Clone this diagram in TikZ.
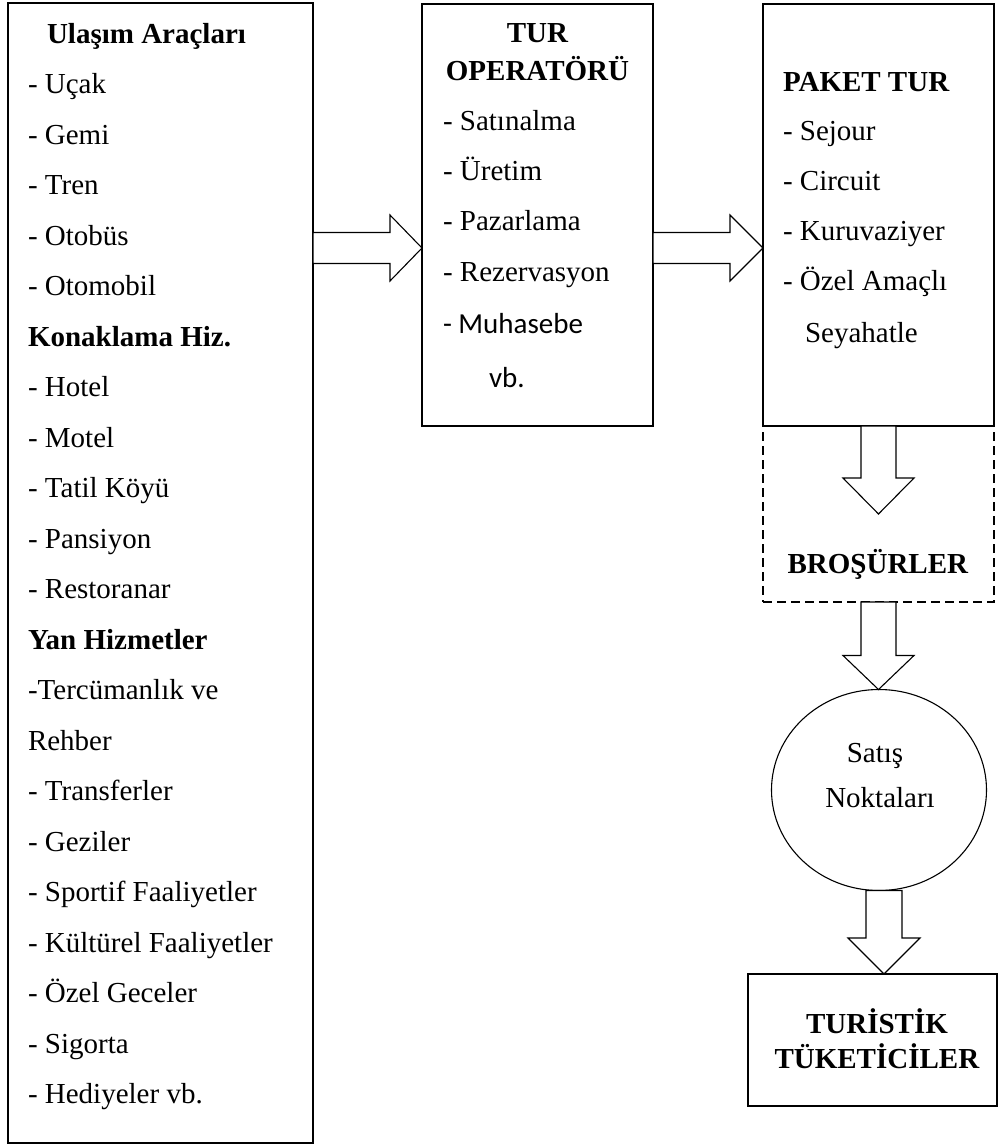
\documentclass[tikz,border=0pt]{standalone}
\usepackage{fontspec}
\setmainfont{Liberation Serif}
\newfontfamily\calibrifont{Carlito}
\usetikzlibrary{calc,shapes.geometric}

\tikzset{
  box/.style={draw, line width=1.1pt, rectangle, inner sep=0pt, outer sep=0pt, anchor=north west},
  dashbox/.style={box, dash pattern=on 9pt off 5pt},
  txt/.style={inner sep=0pt, outer sep=0pt, anchor=base west},
  ctxt/.style={inner sep=0pt, outer sep=0pt, anchor=base},
  % horizontal block arrow: shaft half width, head half width, head length
  harrow/.style n args={3}{draw, line width=1.1pt, fill=white, line join=miter,
    to path={let \p1=(\tikztostart), \p2=(\tikztotarget) in
      (\x1,\y1+#1) -- (\x2-#3,\y1+#1) -- (\x2-#3,\y1+#2) -- (\x2,\y1)
      -- (\x2-#3,\y1-#2) -- (\x2-#3,\y1-#1) -- (\x1,\y1-#1) -- cycle}},
  % downward block arrow
  varrow/.style n args={3}{draw, line width=1.1pt, fill=white, line join=miter,
    to path={let \p1=(\tikztostart), \p2=(\tikztotarget) in
      (\x1-#1,\y1) -- (\x1-#1,\y2+#3) -- (\x1-#2,\y2+#3) -- (\x1,\y2)
      -- (\x1+#2,\y2+#3) -- (\x1+#1,\y2+#3) -- (\x1+#1,\y1) -- cycle}},
}

\begin{document}
\begin{tikzpicture}[x=1pt, y=-1pt, font=\fontsize{29}{35}\selectfont]
\useasboundingbox[fill=white] (0,0) rectangle (999,1144);

% boxes
\node[box, minimum width=305pt, minimum height=1140pt] (left) at (8,3) {};
\node[box, minimum width=231pt, minimum height=422pt] (tur) at (422,4) {};
\node[dashbox, minimum width=231pt, minimum height=176pt] (bro) at (763,426) {};
\node[box, minimum width=231pt, minimum height=422pt] (paket) at (763,4) {};
\node[draw, line width=1.1pt, ellipse, minimum width=215pt, minimum height=201pt,
      inner sep=0pt, outer sep=0pt] (sat) at (879,790) {};
\node[box, minimum width=249pt, minimum height=132pt] (tuk) at (748,974) {};

% left column entries
\foreach \t [count=\i from 0] in {
  {\hspace*{19pt}\textbf{Ulaşım Araçları}}, - Uçak, - Gemi, - Tren, - Otobüs, - Otomobil,
  \textbf{Konaklama Hiz.}, - Hotel, - Motel, - Tatil Köyü, - Pansiyon, - Restoranar,
  \textbf{Yan Hizmetler}, -Tercümanlık ve, Rehber, - Transferler, - Geziler,
  - Sportif Faaliyetler, - Kültürel Faaliyetler, - Özel Geceler, - Sigorta,
  - Hediyeler vb.}
  \node[txt] (l\i) at (28,{43+50.5*\i}) {\t};

% tour operator
\node[ctxt] (tur1) at (537.5,42) {\textbf{TUR}};
\node[ctxt] (tur2) at (537.5,80) {\textbf{OPERATÖRÜ}};
\node[txt] (tur3) at (443,130) {- Satınalma};
\node[txt] (tur4) at (443,180) {- Üretim};
\node[txt] (tur5) at (443,230) {- Pazarlama};
\node[txt] (tur6) at (443,281) {- Rezervasyon};
\node[txt] (tur7) at (443,333) {\calibrifont - Muhasebe};
\node[txt] (tur8) at (489,387) {\calibrifont vb.};

% package tour
\node[txt] (pk1) at (783,91) {\textbf{PAKET TUR}};
\node[txt] (pk2) at (783,140) {- Sejour};
\node[txt] (pk3) at (783,190) {- Circuit};
\node[txt] (pk4) at (783,240) {- Kuruvaziyer};
\node[txt] (pk5) at (783,290) {- Özel Amaçlı};
\node[txt] (pk6) at (805,342) {Seyahatle};

% brochures, sales points, consumers
\node[ctxt] (bro1) at (878,573) {\textbf{BROŞÜRLER}};
\node[ctxt] (sat1) at (875,762) {Satış};
\node[ctxt] (sat2) at (880,807) {Noktaları};
\node[ctxt] (tuk1) at (877,1033) {\textbf{TURİSTİK}};
\node[ctxt] (tuk2) at (877,1068) {\textbf{TÜKETİCİLER}};

% block arrows
\coordinate (row) at (0,248);
\coordinate (d1) at (878,514);
\coordinate (col) at (884,0);
\draw[harrow={15.5pt}{33pt}{32pt}] (left.east |- row) to (tur.west |- row);
\draw[harrow={15.5pt}{33pt}{33pt}] (tur.east |- row) to (paket.west |- row);
\draw[varrow={17.5pt}{35.5pt}{36pt}] (paket.south) to (d1);
\draw[varrow={17.5pt}{35.5pt}{34pt}] (bro.south) to (sat.north);
\draw[varrow={18pt}{36pt}{36pt}] (sat.south -| col) to (tuk.north -| col);
\end{tikzpicture}
\end{document}
